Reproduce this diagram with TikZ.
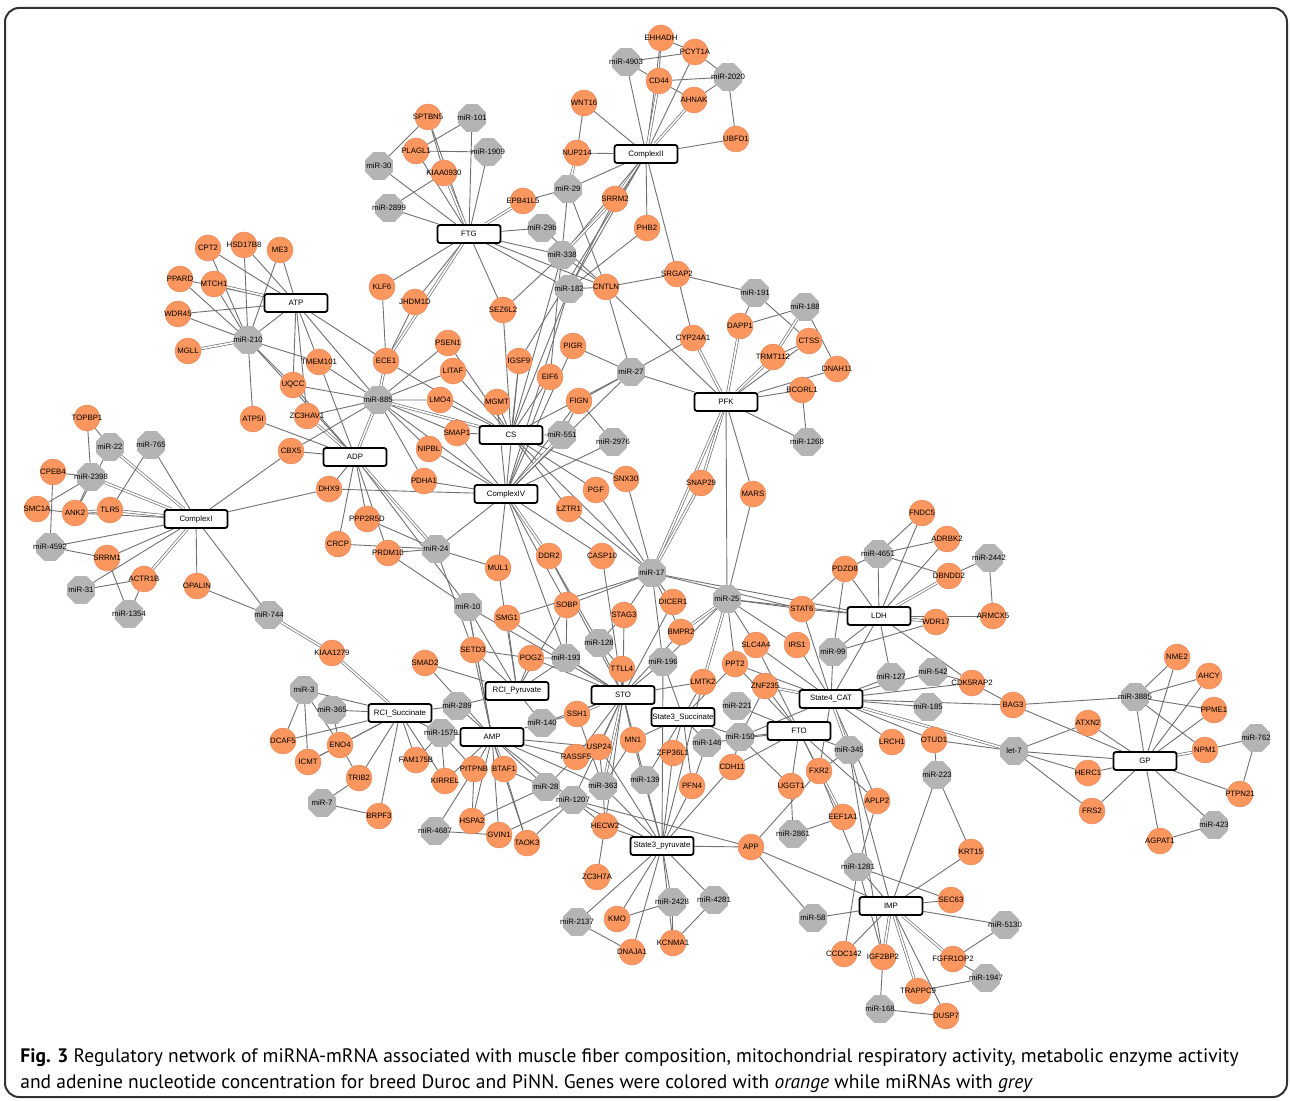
\documentclass[tikz,border=0pt]{standalone}
\usepackage{fontspec}
\setmainfont{Liberation Sans}
\newfontfamily\capfont{PT Sans}
\usepackage{tikz}
\usetikzlibrary{shapes.geometric}
\usetikzlibrary{backgrounds}

\definecolor{geneorange}{RGB}{252,150,95}
\definecolor{generim}{RGB}{228,138,96}
\definecolor{mirgrey}{RGB}{180,180,180}
\definecolor{linkgrey}{RGB}{112,112,112}
\definecolor{framegrey}{RGB}{50,50,50}

\newcommand{\netfont}{\fontsize{3.9}{4.5}\selectfont}
\newcommand{\lbl}[1]{\makebox[0pt]{#1}}

\begin{document}
\begin{tikzpicture}[
    x=0.5pt, y=-0.5pt,
    gene/.style={circle, fill=geneorange, draw=generim, line width=0.25pt, minimum size=13pt, inner sep=0pt, font=\netfont},
    mirna/.style={regular polygon, regular polygon sides=8, fill=mirgrey, draw=mirgrey, minimum size=14.5pt, inner sep=0pt, font=\netfont},
    trait/.style={rectangle, rounded corners=1.2pt, draw=black, line width=0.9pt, fill=white, minimum width=31.5pt, minimum height=9pt, inner sep=0pt, font=\netfont},
    every edge/.append style={draw=linkgrey, line width=0.45pt},
    twin/.style={double=white, double distance=0.8pt, line width=0.35pt}
]
\useasboundingbox (0,0) rectangle (1290,1101);
\draw[framegrey, line width=1pt, rounded corners=7pt] (5,8) rectangle (1287,1097);

% Nodes : traits
\node[trait] (ComplexII) at (646,154) {ComplexII};
\node[trait] (FTG) at (469,234) {FTG};
\node[trait] (ATP) at (296,303) {ATP};
\node[trait] (ADP) at (355,457) {ADP};
\node[trait] (CS) at (511,435) {CS};
\node[trait] (ComplexIV) at (506,494) {ComplexIV};
\node[trait] (PFK) at (726,402) {PFK};
\node[trait] (ComplexI) at (196,519) {ComplexI};
\node[trait] (LDH) at (879,616) {LDH};
\node[trait] (State4CAT) at (831,699) {State4\_CAT};
\node[trait] (RCIPyr) at (517,691) {RCI\_Pyruvate};
\node[trait] (STO) at (623,695) {STO};
\node[trait] (RCISuc) at (400,713) {RCI\_Succinate};
\node[trait] (AMP) at (492,737) {AMP};
\node[trait] (State3Suc) at (683,717) {State3\_Succinate};
\node[trait] (FTO) at (799,731) {FTO};
\node[trait] (State3Pyr) at (662,846) {State3\_pyruvate};
\node[trait] (IMP) at (891,906) {IMP};
\node[trait] (GP) at (1145,761) {GP};

% Nodes : genes
\node[gene] (EHHADH) at (661,38) {\lbl{EHHADH}};
\node[gene] (PCYT1A) at (695,52) {\lbl{PCYT1A}};
\node[gene] (CD44) at (659,81) {\lbl{CD44}};
\node[gene] (AHNAK) at (694,100) {\lbl{AHNAK}};
\node[gene] (UBFD1) at (736,139) {\lbl{UBFD1}};
\node[gene] (WNT16) at (584,103) {\lbl{WNT16}};
\node[gene] (NUP214) at (577,153) {\lbl{NUP214}};
\node[gene] (SRRM2) at (615,199) {\lbl{SRRM2}};
\node[gene] (PHB2) at (647,228) {\lbl{PHB2}};
\node[gene] (EPB41L5) at (523,201) {\lbl{EPB41L5}};
\node[gene] (CNTLN) at (606,287) {\lbl{CNTLN}};
\node[gene] (SRGAP2) at (677,274) {\lbl{SRGAP2}};
\node[gene] (SEZ6L2) at (503,310) {\lbl{SEZ6L2}};
\node[gene] (PIGR) at (573,346) {\lbl{PIGR}};
\node[gene] (SPTBN5) at (428,117) {\lbl{SPTBN5}};
\node[gene] (PLAGL1) at (416,151) {\lbl{PLAGL1}};
\node[gene] (KIAA0930) at (444,173) {\lbl{KIAA0930}};
\node[gene] (KLF6) at (382,287) {\lbl{KLF6}};
\node[gene] (JHDM1D) at (415,302) {\lbl{JHDM1D}};
\node[gene] (PSEN1) at (448,343) {\lbl{PSEN1}};
\node[gene] (ECE1) at (386,361) {\lbl{ECE1}};
\node[gene] (CPT2) at (208,248) {\lbl{CPT2}};
\node[gene] (HSD17B8) at (244,245) {\lbl{HSD17B8}};
\node[gene] (ME3) at (280,250) {\lbl{ME3}};
\node[gene] (PPARD) at (180,279) {\lbl{PPARD}};
\node[gene] (MTCH1) at (214,284) {\lbl{MTCH1}};
\node[gene] (WDR45) at (178,314) {\lbl{WDR45}};
\node[gene] (MGLL) at (188,351) {\lbl{MGLL}};
\node[gene] (TMEM101) at (319,362) {\lbl{TMEM101}};
\node[gene] (UQCC) at (293,385) {\lbl{UQCC}};
\node[gene] (ATP5I) at (253,419) {\lbl{ATP5I}};
\node[gene] (ZC3HAV1) at (307,416) {\lbl{ZC3HAV1}};
\node[gene] (CBX5) at (291,451) {\lbl{CBX5}};
\node[gene] (LITAF) at (453,371) {\lbl{LITAF}};
\node[gene] (LMO4) at (440,400) {\lbl{LMO4}};
\node[gene] (IGSF9) at (519,361) {\lbl{IGSF9}};
\node[gene] (EIF6) at (550,377) {\lbl{EIF6}};
\node[gene] (MGMT) at (497,402) {\lbl{MGMT}};
\node[gene] (FIGN) at (579,401) {\lbl{FIGN}};
\node[gene] (SMAP1) at (457,433) {\lbl{SMAP1}};
\node[gene] (NIPBL) at (429,449) {\lbl{NIPBL}};
\node[gene] (PDHA1) at (424,481) {\lbl{PDHA1}};
\node[gene] (DHX9) at (329,489) {\lbl{DHX9}};
\node[gene] (PPP2R5D) at (367,519) {\lbl{PPP2R5D}};
\node[gene] (CRCP) at (338,544) {\lbl{CRCP}};
\node[gene] (PRDM10) at (388,553) {\lbl{PRDM10}};
\node[gene] (MUL1) at (498,568) {\lbl{MUL1}};
\node[gene] (SMG1) at (507,618) {\lbl{SMG1}};
\node[gene] (SETD3) at (473,650) {\lbl{SETD3}};
\node[gene] (POGZ) at (531,658) {\lbl{POGZ}};
\node[gene] (SMAD2) at (425,663) {\lbl{SMAD2}};
\node[gene] (KIAA1279) at (332,653) {\lbl{KIAA1279}};
\node[gene] (TTLL4) at (622,669) {\lbl{TTLL4}};
\node[gene] (STAG3) at (624,615) {\lbl{STAG3}};
\node[gene] (SOBP) at (567,605) {\lbl{SOBP}};
\node[gene] (DDR2) at (549,556) {\lbl{DDR2}};
\node[gene] (CASP10) at (602,556) {\lbl{CASP10}};
\node[gene] (LZTR1) at (569,509) {\lbl{LZTR1}};
\node[gene] (PGF) at (596,490) {\lbl{PGF}};
\node[gene] (SNX30) at (626,479) {\lbl{SNX30}};
\node[gene] (DAPP1) at (740,326) {\lbl{DAPP1}};
\node[gene] (CTSS) at (809,341) {\lbl{CTSS}};
\node[gene] (CYP24A1) at (693,338) {\lbl{CYP24A1}};
\node[gene] (TRMT112) at (773,357) {\lbl{TRMT112}};
\node[gene] (DNAH11) at (837,369) {\lbl{DNAH11}};
\node[gene] (BCORL1) at (802,390) {\lbl{BCORL1}};
\node[gene] (SNAP29) at (701,483) {\lbl{SNAP29}};
\node[gene] (MARS) at (753,494) {\lbl{MARS}};
\node[gene] (FNDC5) at (922,513) {\lbl{FNDC5}};
\node[gene] (ADRBK2) at (947,539) {\lbl{ADRBK2}};
\node[gene] (PDZD8) at (845,569) {\lbl{PDZD8}};
\node[gene] (DBNDD2) at (949,576) {\lbl{DBNDD2}};
\node[gene] (ARMCX5) at (993,616) {\lbl{ARMCX5}};
\node[gene] (STAT6) at (802,609) {\lbl{STAT6}};
\node[gene] (WDR17) at (936,622) {\lbl{WDR17}};
\node[gene] (DICER1) at (673,602) {\lbl{DICER1}};
\node[gene] (BMPR2) at (681,632) {\lbl{BMPR2}};
\node[gene] (SLC4A4) at (756,645) {\lbl{SLC4A4}};
\node[gene] (IRS1) at (797,645) {\lbl{IRS1}};
\node[gene] (PPT2) at (735,664) {\lbl{PPT2}};
\node[gene] (LMTK2) at (703,682) {\lbl{LMTK2}};
\node[gene] (ZNF235) at (765,686) {\lbl{ZNF235}};
\node[gene] (CDK5RAP2) at (972,683) {\lbl{CDK5RAP2}};
\node[gene] (BAG3) at (1013,705) {\lbl{BAG3}};
\node[gene] (NME2) at (1177,657) {\lbl{NME2}};
\node[gene] (AHCY) at (1209,676) {\lbl{AHCY}};
\node[gene] (PPME1) at (1214,710) {\lbl{PPME1}};
\node[gene] (ATXN2) at (1088,723) {\lbl{ATXN2}};
\node[gene] (NPM1) at (1205,750) {\lbl{NPM1}};
\node[gene] (HERC1) at (1088,773) {\lbl{HERC1}};
\node[gene] (PTPN21) at (1240,794) {\lbl{PTPN21}};
\node[gene] (FRS2) at (1092,811) {\lbl{FRS2}};
\node[gene] (AGPAT1) at (1160,841) {\lbl{AGPAT1}};
\node[gene] (KRT15) at (971,852) {\lbl{KRT15}};
\node[gene] (LRCH1) at (892,742) {\lbl{LRCH1}};
\node[gene] (OTUD1) at (934,740) {\lbl{OTUD1}};
\node[gene] (ZFP36L1) at (673,753) {\lbl{ZFP36L1}};
\node[gene] (CDH11) at (732,767) {\lbl{CDH11}};
\node[gene] (PFN4) at (692,786) {\lbl{PFN4}};
\node[gene] (UGGT1) at (791,786) {\lbl{UGGT1}};
\node[gene] (FXR2) at (819,771) {\lbl{FXR2}};
\node[gene] (APLP2) at (877,801) {\lbl{APLP2}};
\node[gene] (EEF1A1) at (843,817) {\lbl{EEF1A1}};
\node[gene] (APP) at (751,847) {\lbl{APP}};
\node[gene] (SEC63) at (951,900) {\lbl{SEC63}};
\node[gene] (CCDC142) at (844,954) {\lbl{CCDC142}};
\node[gene] (IGF2BP2) at (883,957) {\lbl{IGF2BP2}};
\node[gene] (FGFR1OP2) at (953,959) {\lbl{FGFR1OP2}};
\node[gene] (TRAPPC9) at (918,991) {\lbl{TRAPPC9}};
\node[gene] (DUSP7) at (946,1016) {\lbl{DUSP7}};
\node[gene] (KCNMA1) at (673,943) {\lbl{KCNMA1}};
\node[gene] (SSH1) at (577,714) {\lbl{SSH1}};
\node[gene] (ENO4) at (340,745) {\lbl{ENO4}};
\node[gene] (MN1) at (633,740) {\lbl{MN1}};
\node[gene] (USP24) at (599,747) {\lbl{USP24}};
\node[gene] (FAM175B) at (416,760) {\lbl{FAM175B}};
\node[gene] (RASSF5) at (576,757) {\lbl{RASSF5}};
\node[gene] (PITPNB) at (474,769) {\lbl{PITPNB}};
\node[gene] (BTAF1) at (504,769) {\lbl{BTAF1}};
\node[gene] (TRIB2) at (359,778) {\lbl{TRIB2}};
\node[gene] (KIRREL) at (445,781) {\lbl{KIRREL}};
\node[gene] (BRPF3) at (379,816) {\lbl{BRPF3}};
\node[gene] (HSPA2) at (472,821) {\lbl{HSPA2}};
\node[gene] (HECW2) at (605,826) {\lbl{HECW2}};
\node[gene] (GVIN1) at (499,835) {\lbl{GVIN1}};
\node[gene] (TAOK3) at (527,843) {\lbl{TAOK3}};
\node[gene] (ZC3H7A) at (597,877) {\lbl{ZC3H7A}};
\node[gene] (KMO) at (617,919) {\lbl{KMO}};
\node[gene] (DNAJA1) at (632,952) {\lbl{DNAJA1}};
\node[gene] (TOPBP1) at (87,418) {\lbl{TOPBP1}};
\node[gene] (CPEB4) at (53,472) {\lbl{CPEB4}};
\node[gene] (SMC1A) at (37,509) {\lbl{SMC1A}};
\node[gene] (ANK2) at (75,513) {\lbl{ANK2}};
\node[gene] (TLR5) at (110,510) {\lbl{TLR5}};
\node[gene] (SRRM1) at (107,558) {\lbl{SRRM1}};
\node[gene] (ACTR1B) at (144,579) {\lbl{ACTR1B}};
\node[gene] (OPALIN) at (197,586) {\lbl{OPALIN}};
\node[gene] (DCAF5) at (283,741) {\lbl{DCAF5}};
\node[gene] (ICMT) at (308,762) {\lbl{ICMT}};

% Nodes : miRNAs
\node[mirna] (m4903) at (626,62) {\lbl{miR-4903}};
\node[mirna] (m2020) at (728,77) {\lbl{miR-2020}};
\node[mirna] (m29) at (568,189) {\lbl{miR-29}};
\node[mirna] (m29b) at (542,228) {\lbl{miR-29b}};
\node[mirna] (m338) at (562,255) {\lbl{miR-338}};
\node[mirna] (m182) at (569,289) {\lbl{miR-182}};
\node[mirna] (m101) at (472,118) {\lbl{miR-101}};
\node[mirna] (m1909) at (488,152) {\lbl{miR-1909}};
\node[mirna] (m30) at (379,166) {\lbl{miR-30}};
\node[mirna] (m2899) at (389,208) {\lbl{miR-2899}};
\node[mirna] (m210) at (248,340) {\lbl{miR-210}};
\node[mirna] (m885) at (378,400) {\lbl{miR-885}};
\node[mirna] (m551) at (562,435) {\lbl{miR-551}};
\node[mirna] (m2976) at (613,442) {\lbl{miR-2976}};
\node[mirna] (m27) at (631,372) {\lbl{miR-27}};
\node[mirna] (m191) at (755,293) {\lbl{miR-191}};
\node[mirna] (m188) at (805,307) {\lbl{miR-188}};
\node[mirna] (m1268) at (807,442) {\lbl{miR-1268}};
\node[mirna] (m22) at (110,447) {\lbl{miR-22}};
\node[mirna] (m765) at (151,445) {\lbl{miR-765}};
\node[mirna] (m2398) at (91,477) {\lbl{miR-2398}};
\node[mirna] (m4592) at (50,547) {\lbl{miR-4592}};
\node[mirna] (m31) at (81,590) {\lbl{miR-31}};
\node[mirna] (m1354) at (129,614) {\lbl{miR-1354}};
\node[mirna] (m744) at (269,615) {\lbl{miR-744}};
\node[mirna] (m24) at (436,549) {\lbl{miR-24}};
\node[mirna] (m10) at (468,607) {\lbl{miR-10}};
\node[mirna] (m193) at (566,658) {\lbl{miR-193}};
\node[mirna] (m128) at (599,643) {\lbl{miR-128}};
\node[mirna] (m17) at (652,573) {\lbl{miR-17}};
\node[mirna] (m25) at (727,599) {\lbl{miR-25}};
\node[mirna] (m4651) at (878,554) {\lbl{miR-4651}};
\node[mirna] (m2442) at (989,558) {\lbl{miR-2442}};
\node[mirna] (m99) at (833,652) {\lbl{miR-99}};
\node[mirna] (m196) at (663,662) {\lbl{miR-196}};
\node[mirna] (m127) at (891,677) {\lbl{miR-127}};
\node[mirna] (m542) at (933,672) {\lbl{miR-542}};
\node[mirna] (m221) at (737,706) {\lbl{miR-221}};
\node[mirna] (m185) at (928,707) {\lbl{miR-185}};
\node[mirna] (m3885) at (1135,697) {\lbl{miR-3885}};
\node[mirna] (let7) at (1014,751) {\lbl{let-7}};
\node[mirna] (m762) at (1256,738) {\lbl{miR-762}};
\node[mirna] (m423) at (1214,825) {\lbl{miR-423}};
\node[mirna] (m3) at (304,690) {\lbl{miR-3}};
\node[mirna] (m365) at (332,710) {\lbl{miR-365}};
\node[mirna] (m289) at (457,706) {\lbl{miR-289}};
\node[mirna] (m1579) at (441,733) {\lbl{miR-1579}};
\node[mirna] (m140) at (542,723) {\lbl{miR-140}};
\node[mirna] (m28) at (546,787) {\lbl{miR-28}};
\node[mirna] (m363) at (603,786) {\lbl{miR-363}};
\node[mirna] (m1207) at (573,800) {\lbl{miR-1207}};
\node[mirna] (m7) at (322,803) {\lbl{miR-7}};
\node[mirna] (m4687) at (435,831) {\lbl{miR-4687}};
\node[mirna] (m2137) at (577,922) {\lbl{miR-2137}};
\node[mirna] (m150) at (740,737) {\lbl{miR-150}};
\node[mirna] (m146) at (707,743) {\lbl{miR-146}};
\node[mirna] (m345) at (849,750) {\lbl{miR-345}};
\node[mirna] (m223) at (937,775) {\lbl{miR-223}};
\node[mirna] (m139) at (645,780) {\lbl{miR-139}};
\node[mirna] (m2861) at (793,834) {\lbl{miR-2861}};
\node[mirna] (m1281) at (858,867) {\lbl{miR-1281}};
\node[mirna] (m58) at (813,918) {\lbl{miR-58}};
\node[mirna] (m2428) at (672,902) {\lbl{miR-2428}};
\node[mirna] (m4281) at (714,900) {\lbl{miR-4281}};
\node[mirna] (m168) at (880,1009) {\lbl{miR-168}};
\node[mirna] (m5130) at (1005,925) {\lbl{miR-5130}};
\node[mirna] (m1947) at (986,978) {\lbl{miR-1947}};

% Edges :
\begin{scope}[on background layer]
\path (ComplexII) edge (m4903) edge (EHHADH) edge[twin] (CD44) edge (PCYT1A) edge[twin] (AHNAK) edge (UBFD1) edge (WNT16) edge (NUP214) edge (m29) edge[twin] (SRRM2) edge (PHB2) edge (SRGAP2) edge (m338) edge (m182) edge (IGSF9);
\path (EHHADH) edge (PCYT1A) edge (CD44);
\path (m4903) edge (PCYT1A) edge (CD44);
\path (m2020) edge (PCYT1A) edge (CD44) edge (AHNAK) edge (UBFD1);
\path (CD44) edge (AHNAK);
\path (NUP214) edge (WNT16) edge[twin] (m29);
\path (m29) edge (EPB41L5) edge (CNTLN) edge (EIF6);
\path (m29b) edge (CNTLN);
\path (m338) edge[twin] (SRRM2) edge (CNTLN) edge (SEZ6L2) edge (CS);
\path (m182) edge (CNTLN) edge (SRRM2) edge (PHB2) edge (CS) edge (ComplexIV);
\path (CNTLN) edge (SRGAP2) edge (PFK) edge (m27);

\path (FTG) edge (SPTBN5) edge (m101) edge (PLAGL1) edge (m1909) edge (m30) edge[twin] (KIAA0930) edge (m2899) edge[twin] (EPB41L5) edge (m29b) edge (m338) edge (m182) edge (CNTLN) edge (SEZ6L2) edge (KLF6) edge (JHDM1D) edge[twin] (ECE1);
\path (SPTBN5) edge (m30) edge (KIAA0930);
\path (PLAGL1) edge (m101) edge (m1909);
\path (KIAA0930) edge (m2899);
\path (ECE1) edge (KLF6) edge (JHDM1D);

\path (ATP) edge (CPT2) edge (HSD17B8) edge (ME3) edge (PPARD) edge[twin] (MTCH1) edge (WDR45) edge (m210) edge (TMEM101) edge (UQCC) edge (ZC3HAV1) edge (m885) edge (ECE1);
\path (m210) edge (CPT2) edge (HSD17B8) edge (ME3) edge (PPARD) edge (MTCH1) edge (WDR45) edge[twin] (MGLL) edge (ATP5I) edge (UQCC) edge (TMEM101) edge (ADP);

\path (ADP) edge[twin] (m885) edge (ATP5I) edge (CBX5) edge[twin] (ZC3HAV1) edge (UQCC) edge (TMEM101) edge (DHX9) edge (PPP2R5D) edge (CRCP) edge (PRDM10) edge[twin] (m24) edge (m10);
\path (m885) edge[twin] (ECE1) edge (PSEN1) edge (LITAF) edge (LMO4) edge (SMAP1) edge (NIPBL) edge (PDHA1) edge[twin] (CS) edge (ComplexIV) edge (UQCC) edge (TMEM101) edge (ZC3HAV1) edge (CBX5);

\path (CS) edge (LITAF) edge (LMO4) edge (MGMT) edge (IGSF9) edge (EIF6) edge (m551) edge (m27) edge (SNX30) edge (PGF) edge (LZTR1) edge (m17) edge (SMAP1) edge (ECE1) edge (SEZ6L2) edge (PSEN1);
\path (ComplexIV) edge (IGSF9) edge (EIF6) edge (FIGN) edge (PIGR) edge[twin] (m551) edge (m2976) edge (SMAP1) edge (NIPBL) edge (PDHA1) edge (DHX9) edge (m24) edge (MUL1) edge[twin] (DDR2) edge (CASP10) edge (SOBP) edge (m193) edge (MGMT) edge (m27);
\path (FIGN) edge (m27) edge (m2976) edge (m551);
\path (m27) edge (PFK) edge (PIGR) edge (CYP24A1);

\path (m24) edge (PPP2R5D) edge (CRCP) edge (PRDM10) edge (MUL1) edge (SETD3);
\path (m10) edge (PRDM10) edge (AMP) edge (STO) edge (RCIPyr);
\path (RCIPyr) edge (MUL1) edge (SMG1) edge (SETD3) edge (POGZ) edge (m193) edge (SOBP) edge (SMAD2) edge (m140) edge (m289);
\path (POGZ) edge (SETD3) edge (m193);
\path (STO) edge (m193) edge (m128) edge (TTLL4) edge (STAG3) edge (CASP10) edge (DDR2) edge (DICER1) edge (m196) edge (BMPR2) edge (LMTK2) edge (POGZ) edge[twin] (SSH1) edge (USP24) edge (MN1) edge (RASSF5) edge[twin] (m363) edge (HECW2) edge (m1207) edge (m139) edge (m140) edge (SMG1);
\path (m128) edge (TTLL4) edge (STAG3) edge (DDR2);
\path (m17) edge (LZTR1) edge (PGF) edge (SNX30) edge (SOBP) edge (STAG3) edge (SMG1) edge (STAT6) edge (LDH) edge (BMPR2) edge (DICER1) edge (m196);
\path (SOBP) edge (m193);

\path (ComplexI) edge[twin] (m22) edge (m765) edge[twin] (m2398) edge[twin] (TLR5) edge (ANK2) edge (m4592) edge (SRRM1) edge (m31) edge[twin] (ACTR1B) edge (OPALIN) edge (m744) edge (CBX5) edge (DHX9);
\path (TOPBP1) edge (m22) edge (m2398);
\path (m22) edge (ANK2);
\path (m765) edge (TLR5);
\path (m2398) edge (CPEB4) edge (SMC1A) edge (ANK2);
\path (m4592) edge (CPEB4) edge (SRRM1);
\path (ANK2) edge (SMC1A) edge[twin] (TLR5);
\path (m1354) edge (SRRM1) edge (ACTR1B);
\path (m31) edge (ACTR1B);
\path (m744) edge (OPALIN) edge[twin] (KIAA1279);

\path (RCISuc) edge[twin] (KIAA1279) edge (m3) edge (m365) edge (DCAF5) edge (ENO4) edge (TRIB2) edge (BRPF3) edge (FAM175B) edge (KIRREL) edge (m1579) edge (m289) edge (ICMT);
\path (m3) edge (DCAF5) edge (ICMT) edge (ENO4);
\path (ENO4) edge (ICMT) edge (m365) edge (TRIB2);
\path (m7) edge (TRIB2) edge (BRPF3);

\path (AMP) edge (m1579) edge (m289) edge (PITPNB) edge[twin] (BTAF1) edge (KIRREL) edge (HSPA2) edge (GVIN1) edge (TAOK3) edge (m28) edge (m1207) edge (m363) edge (RASSF5) edge (m140) edge (SETD3) edge (SMAD2) edge (m10) edge (USP24);
\path (m1579) edge (FAM175B) edge (KIRREL) edge (PITPNB);
\path (PITPNB) edge (m4687) edge (HSPA2);
\path (m28) edge (BTAF1) edge (HSPA2) edge (RASSF5);
\path (TAOK3) edge (BTAF1) edge (m1207);
\path (GVIN1) edge (m4687) edge (m1207);
\path (m140) edge (SSH1);
\path (m363) edge (SSH1) edge (USP24) edge (MN1) edge (HECW2) edge (State3Pyr);
\path (m1207) edge (HECW2) edge (State3Pyr) edge (APP);
\path (HECW2) edge (ZC3H7A) edge (State3Pyr);

\path (State3Pyr) edge (m2137) edge (KMO) edge (DNAJA1) edge (m2428) edge (m4281) edge (KCNMA1) edge (APP) edge (CDH11) edge (m139) edge (ZFP36L1) edge (USP24) edge (MN1) edge (LMTK2) edge (m196) edge (PFN4);
\path (m2137) edge (DNAJA1);
\path (m2428) edge (KMO) edge (KCNMA1);
\path (m4281) edge (KCNMA1);

\path (State3Suc) edge (m146) edge (m150) edge (ZFP36L1) edge (PFN4) edge (m139) edge (LMTK2) edge (m196) edge (PPT2) edge (MN1);
\path (m150) edge (FTO) edge (CDH11) edge (UGGT1) edge (State4CAT) edge (ZNF235);
\path (m146) edge (FTO) edge (PFN4);
\path (FTO) edge (m221) edge (UGGT1) edge (FXR2) edge (m345) edge (APLP2) edge (CDH11) edge (ZNF235) edge (SLC4A4) edge (PPT2) edge (EEF1A1);
\path (FXR2) edge (m345) edge[twin] (EEF1A1) edge (APP) edge (State4CAT) edge (m1281);
\path (m2861) edge (UGGT1) edge (EEF1A1);
\path (APLP2) edge (m1281) edge (State4CAT);

\path (State4CAT) edge (m99) edge (STAT6) edge (IRS1) edge (SLC4A4) edge[twin] (ZNF235) edge (m127) edge (m185) edge (LRCH1) edge (OTUD1) edge (BAG3) edge (CDK5RAP2) edge[twin] (let7) edge[twin] (m345) edge (m542) edge (LDH) edge (PPT2);
\path (LDH) edge (m4651) edge (PDZD8) edge (FNDC5) edge (ADRBK2) edge[twin] (DBNDD2) edge[twin] (WDR17) edge (ARMCX5) edge (STAT6) edge (m99) edge (m127) edge (CDK5RAP2) edge (m25);
\path (m4651) edge (FNDC5) edge (ADRBK2) edge (DBNDD2) edge (PDZD8);
\path (PDZD8) edge (STAT6) edge (m99);
\path (m99) edge (WDR17);
\path (m2442) edge (DBNDD2) edge (ARMCX5);
\path (CDK5RAP2) edge (BAG3) edge (m542);

\path (PFK) edge[twin] (CYP24A1) edge[twin] (DAPP1) edge[twin] (TRMT112) edge (CTSS) edge (DNAH11) edge (BCORL1) edge (m1268) edge[twin] (SNAP29) edge (MARS) edge (m25) edge[twin] (m17);
\path (SRGAP2) edge (m191) edge (CYP24A1);
\path (m191) edge (DAPP1) edge (CTSS);
\path (m188) edge (DAPP1) edge[twin] (TRMT112) edge (DNAH11);
\path (CTSS) edge (TRMT112);
\path (BCORL1) edge (m1268);
\path (SNAP29) edge[twin] (m17);
\path (m25) edge (MARS) edge (STAT6) edge (IRS1) edge (SLC4A4) edge (PPT2) edge[twin] (LMTK2) edge[twin] (BMPR2) edge (m196);

\path (IMP) edge (m1281) edge (SEC63) edge (KRT15) edge (m223) edge (m58) edge (CCDC142) edge[twin] (IGF2BP2) edge[twin] (FGFR1OP2) edge[twin] (TRAPPC9) edge (DUSP7) edge (m5130) edge (APP) edge (m345);
\path (m1281) edge (SEC63) edge (CCDC142) edge (IGF2BP2);
\path (m223) edge (KRT15) edge (OTUD1);
\path (APP) edge (m58);
\path (m168) edge (IGF2BP2) edge (DUSP7);
\path (m1947) edge (TRAPPC9) edge (FGFR1OP2);
\path (m5130) edge (FGFR1OP2);
\path (m345) edge (IGF2BP2);

\path (GP) edge (m3885) edge (NME2) edge (AHCY) edge (PPME1) edge[twin] (NPM1) edge (PTPN21) edge (m423) edge (AGPAT1) edge (FRS2) edge (HERC1) edge (ATXN2) edge (let7) edge (BAG3);
\path (m3885) edge (BAG3) edge (NME2) edge (AHCY) edge (PPME1) edge (NPM1);
\path (let7) edge (ATXN2) edge (HERC1) edge (FRS2) edge (OTUD1);
\path (m762) edge (NPM1) edge (PTPN21);
\path (m423) edge (AGPAT1);
\end{scope}

% Caption :
\node[anchor=base west, inner sep=0pt, font=\capfont\fontsize{9.75}{12}\selectfont] (cap1) at (20,1062) {\textbf{Fig. 3} Regulatory network of miRNA-mRNA associated with muscle fiber composition, mitochondrial respiratory activity, metabolic enzyme activity};
\node[anchor=base west, inner sep=0pt, font=\capfont\fontsize{9.75}{12}\selectfont] (cap2) at (20,1088) {and adenine nucleotide concentration for breed Duroc and PiNN. Genes were colored with \textit{orange} while miRNAs with \textit{grey}};
\end{tikzpicture}
\end{document}
